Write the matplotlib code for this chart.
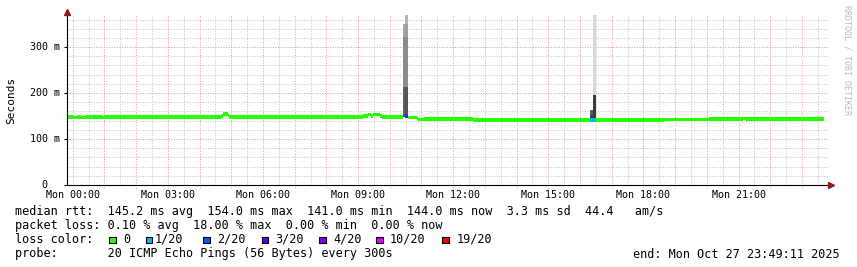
import matplotlib.pyplot as plt
import numpy as np
from matplotlib import transforms
from matplotlib.patches import Rectangle

plt.rcParams['font.family'] = 'DejaVu Sans Mono'

W, H = 857, 267

# hours relative to Mon 00:00, graph ends Mon Oct 27 23:49:11 2025
t_start = -0.18
t_end = 23.82

# median rtt in ms, step changes
med_t = [-0.18, 0.01, 0.14, 0.26, 0.42, 0.92, 0.99, 4.68, 4.75, 4.89, 4.94,
         9.17, 9.31, 9.41, 9.48, 9.69, 9.76, 10.42, 10.49, 10.57, 10.86, 10.90,
         11.08, 12.63, 18.65, 20.07, 21.14, 21.24, 23.70]
med_v = [148, 147, 148, 147, 148, 147, 148, 150, 154, 151, 148,
         150, 153, 150, 153, 150, 148, 151, 150, 147, 145, 142,
         144, 141, 142, 144, 145, 144, 144]

# samples with packet loss (start, end, median, lost pings of 20)
loss_t0 = [10.42, 10.49, 16.31]
loss_t1 = [10.49, 10.57, 16.51]
loss_v = [151, 150, 141]
loss_n = [2, 4, 1]

# smoke columns: band edges in ms and shade per band
smoke_t0 = [10.42, 10.49, 16.31, 16.41]
smoke_t1 = [10.49, 10.57, 16.41, 16.51]
smoke_edges = [[151, 214, 322, 350],
               [150, 214, 322, 350, 370],
               [141, 152, 163],
               [141, 196, 370]]
smoke_grey = [['#5e5e5e', '#8c8c8c', '#a5a5a5'],
              ['#555555', '#8c8c8c', '#a0a0a0', '#b4b4b4'],
              ['#404040', '#5c5c5c'],
              ['#3c3c3c', '#d9d9d9']]

loss_labels = ['0', '1/20', '2/20', '3/20', '4/20', '10/20', '19/20']
loss_steps = [0, 1, 2, 3, 4, 10, 19]
loss_cols = ['#26ff00', '#00b8ff', '#0059ff', '#5e00ff', '#7e00ff', '#dd00ff', '#ff0000']

x_label_hours = [0, 3, 6, 9, 12, 15, 18, 21]
x_labels = ['Mon 00:00', 'Mon 03:00', 'Mon 06:00', 'Mon 09:00',
            'Mon 12:00', 'Mon 15:00', 'Mon 18:00', 'Mon 21:00']
y_label_vals = [0, 100, 200, 300]
y_labels = ['  0', '100 m', '200 m', '300 m']

stats_rtt = [145.2, 154.0, 141.0, 144.0, 3.3, 44.4]
stats_loss = [0.10, 18.00, 0.00, 0.00]


def loss_colour(n):
    c = loss_cols[0]
    for s, col in zip(loss_steps, loss_cols):
        if n >= s:
            c = col
    return c


def fx(x):
    return x / W


def fy(y):
    return 1 - y / H


fig = plt.figure(figsize=(W / 100, H / 100), dpi=100)
fig.patch.set_facecolor('white')
ax = fig.add_axes([fx(67), fy(185), 761 / W, 171 / H])
ax.set_xlim(t_start, t_end)
ax.set_ylim(0, 372)

# grid, dotted like rrdtool
minor_c = '#c4c4c4'
major_c = '#e39a9a'
grid_kw = dict(ls=(0, (1, 1.6)), lw=0.72)
for h in np.arange(-0.5, 24, 1.0):
    if t_start < h < t_end:
        ax.axvline(h, color=minor_c, zorder=0, **grid_kw)
for y in np.arange(20, 372, 20):
    if y % 100:
        ax.axhline(y, color=minor_c, zorder=0, **grid_kw)
for h in np.arange(0, 24, 1.0):
    ax.axvline(h, ymin=-0.015, color=major_c, zorder=0.5, clip_on=False, **grid_kw)
for y in [100, 200, 300]:
    ax.axhline(y, color=major_c, zorder=0.5, **grid_kw)

# smoke
for t0, t1, edges, greys in zip(smoke_t0, smoke_t1, smoke_edges, smoke_grey):
    for lo, hi, g in zip(edges[:-1], edges[1:], greys):
        ax.bar(t0, hi - lo, width=t1 - t0, bottom=lo, align='edge',
               color=g, linewidth=0, zorder=2)

# median band
hw = 3.8
mv = np.array(med_v, dtype=float)
ax.fill_between(med_t, mv - hw, mv + hw, step='post', color=loss_cols[0],
                linewidth=0, zorder=3)
for t0, t1, v, n in zip(loss_t0, loss_t1, loss_v, loss_n):
    ax.fill_between([t0, t1], v - hw, v + hw, color=loss_colour(n),
                    linewidth=0, zorder=4)

# axes frame
for s in ['top', 'right']:
    ax.spines[s].set_visible(False)
for s in ['left', 'bottom']:
    ax.spines[s].set_color('black')
    ax.spines[s].set_linewidth(0.8)
    ax.spines[s].set_zorder(5)
arrow_c = '#8b1a1a'
ax.plot([0], [1], marker='^', ms=4.5, color=arrow_c, clip_on=False, zorder=6,
        transform=transforms.offset_copy(ax.transAxes, fig, x=0, y=2, units='dots'))
ax.plot([1], [0], marker='>', ms=4.5, color=arrow_c, clip_on=False, zorder=6,
        transform=transforms.offset_copy(ax.transAxes, fig, x=3, y=0, units='dots'))

ax.set_xticks(x_label_hours, x_labels)
ax.tick_params(axis='x', length=0, pad=3.5, labelsize=7.2, colors='black')
ax.set_yticks(y_label_vals, [''] * len(y_label_vals))
ax.tick_params(axis='y', length=2, width=0.8, color='black')
ytr = transforms.blended_transform_factory(fig.transFigure, ax.transData)
for v, lab in zip(y_label_vals, y_labels):
    ax.text(fx(30), v, lab, transform=ytr, ha='left', va='center', fontsize=7.2)

fig.text(fx(11), fy(100), 'Seconds', rotation=90, ha='center', va='center', fontsize=8)
fig.text(fx(847), fy(60), 'RRDTOOL / TOBI OETIKER', rotation=270, ha='center',
         va='center', fontsize=6, color='#bbbbbb')

# legend block
fs = 8.5
line1 = ('median rtt:  %.1f ms avg  %.1f ms max  %.1f ms min  %.1f ms now  '
         '%.1f ms sd  %.1f   am/s' % tuple(stats_rtt))
line2 = 'packet loss: %.2f %% avg  %.2f %% max  %.2f %% min  %.2f %% now' % tuple(stats_loss)
fig.text(fx(15), fy(211), line1, ha='left', va='center', fontsize=fs)
fig.text(fx(15), fy(225.5), line2, ha='left', va='center', fontsize=fs)
fig.text(fx(15), fy(239.5), 'loss color:', ha='left', va='center', fontsize=fs)
box_x = [109, 145.7, 203, 261.7, 319, 376, 442.3]
txt_x = [123, 155, 217, 275, 333, 390, 457]
for bx, tx, lab, col in zip(box_x, txt_x, loss_labels, loss_cols):
    fig.patches.append(Rectangle((fx(bx), fy(243)), 6.5 / W, 6.5 / H,
                                 transform=fig.transFigure, facecolor=col,
                                 edgecolor='black', linewidth=0.8))
    fig.text(fx(tx), fy(239.5), lab, ha='left', va='center', fontsize=fs)
fig.text(fx(15), fy(254), 'probe:       20 ICMP Echo Pings (56 Bytes) every 300s',
         ha='left', va='center', fontsize=fs)
fig.text(fx(840), fy(254), 'end: Mon Oct 27 23:49:11 2025', ha='right',
         va='center', fontsize=fs)

fig.savefig('out.png', dpi=100)
